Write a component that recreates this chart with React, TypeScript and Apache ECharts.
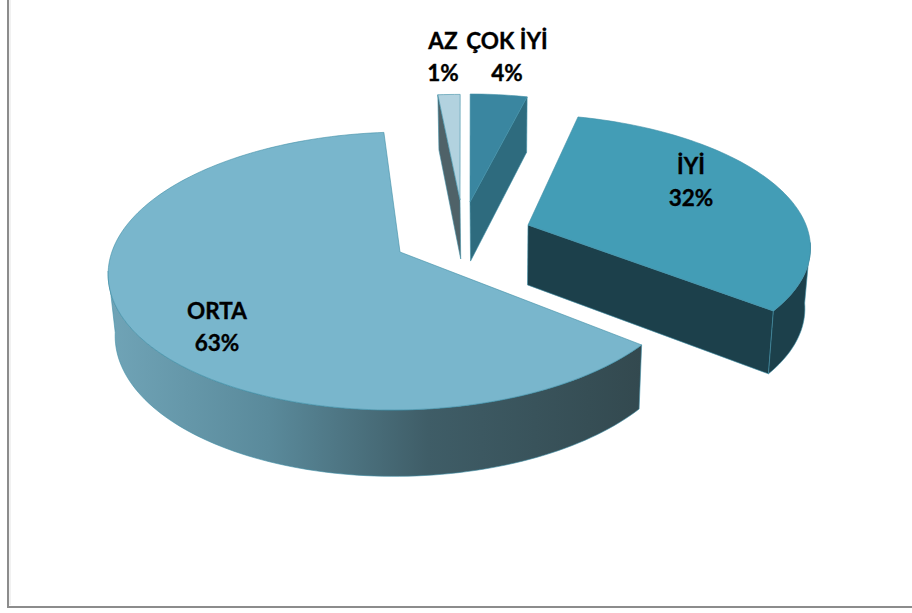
import React, { useEffect, useRef } from "react";
import * as echarts from "echarts";

// Data (shown rounded in the labels)
const categories = ["AZ", "ÇOK İYİ", "İYİ", "ORTA"];
const percentages = [1.4, 3.9, 31.8, 62.9];

// Layout of the 3D pie
const FIRST_ANGLE = 355;
const RIM_A = 289;
const RIM_B = 136.4;
const PERSPECTIVE = 0.1367;
const originsX = [460, 470, 528, 400];
const originsY = [200, 202, 225, 252];
const scalesX = [1, 0.92, 0.962, 0.997];
const scalesY = [0.88, 0.9, 0.925, 1];
const shears = [0, 0, 0.09, -0.05];
const labelX = [443, 507, 691, 217];
const labelY = [56, 56, 181, 326];

// Colours
const topColors = ["#b2d2df", "#3a86a0", "#439db6", "#79b6cc"];
const sideColors = ["#4f6268", "#2e6b7e", "#1c404b", "#1c404b"];
const edgeColor = "#3f8fa6";

const rad = (d: number) => (d * Math.PI) / 180;

function rimPoint(i: number, deg: number): number[] {
  const u = Math.sin(rad(deg));
  const v = Math.cos(rad(deg));
  const d = 1 + PERSPECTIVE * v;
  const dy = -(scalesY[i] * RIM_B * v) / d;
  return [originsX[i] + (scalesX[i] * RIM_A * u) / d + shears[i] * dy, originsY[i] + dy];
}

// Where a point of the top face lands on the bottom face
function drop(p: number[]): number[] {
  return [500 + (p[0] - 500) * 0.982, p[1] + 52 + 0.035 * p[1]];
}

function arc(i: number, from: number, to: number): number[][] {
  const n = Math.max(2, Math.ceil((to - from) / 1.5));
  const out: number[][] = [];
  for (let k = 0; k <= n; k++) out.push(rimPoint(i, from + ((to - from) * k) / n));
  return out;
}

function sliceAngles(index: number): [number, number] {
  const total = percentages.reduce((a, b) => a + b, 0);
  let start = FIRST_ANGLE;
  for (let k = 0; k < index; k++) start += (percentages[k] / total) * 360;
  const sweep = (percentages[index] / total) * 360;
  if (start >= 359.99) start -= 360;
  return [start, start + sweep];
}

function renderItem(params: any) {
  const i = params.dataIndex;
  const [a0, a1] = sliceAngles(i);
  const origin = [originsX[i], originsY[i]];
  const children: any[] = [];
  const wallFill =
    categories[i] === "ORTA"
      ? new echarts.graphic.LinearGradient(0, 0, 1, 0, [
          { offset: 0, color: "#70a4b7" },
          { offset: 0.3, color: "#5a8a9b" },
          { offset: 0.6, color: "#3f5d67" },
          { offset: 1, color: "#33494f" },
        ])
      : sideColors[i];
  const wall = (pts: number[][]) => {
    const bottom = pts.map(drop).reverse();
    children.push({
      type: "polygon",
      shape: { points: [...pts, ...bottom] },
      style: { fill: wallFill, stroke: edgeColor, lineWidth: 0.6 },
    });
  };
  // radial walls that face the viewer
  if (Math.sin(rad(a0)) < -0.001) wall([origin, rimPoint(i, a0)]);
  if (Math.sin(rad(a1)) > 0.001) wall([origin, rimPoint(i, a1)]);
  // outer wall: front half of each rim, between the silhouette points
  const extR = (Math.acos(-PERSPECTIVE) * 180) / Math.PI;
  const extL = 360 - extR;
  const from = Math.max(a0, extR);
  const to = Math.min(a1, extL);
  if (to > from) wall(arc(i, from, to));
  // top face
  children.push({
    type: "polygon",
    shape: { points: [origin, ...arc(i, a0, a1)] },
    style: { fill: topColors[i], stroke: edgeColor, lineWidth: 0.6 },
  });
  children.push({
    type: "text",
    style: {
      text: `${categories[i]}\n${Math.round(percentages[i])}%`,
      x: labelX[i],
      y: labelY[i],
      align: "center",
      verticalAlign: "middle",
      fontFamily: "Lato",
      fontWeight: "bold",
      fontSize: 22.5,
      lineHeight: 32,
      fill: "#000000",
      stroke: "#000000",
      lineWidth: 0.35,
    },
  });
  return { type: "group", children };
}

export default function App() {
  const ref = useRef<HTMLDivElement>(null);
  useEffect(() => {
    const chart = echarts.init(ref.current!, undefined, { renderer: "svg" });
    chart.setOption({
      animation: false,
      backgroundColor: "#ffffff",
      graphic: [
        {
          type: "polyline",
          shape: { points: [[10, 0], [10, 605]] },
          style: { stroke: "#e4e4e4", fill: "none", lineWidth: 1 },
        },
        {
          type: "polyline",
          shape: { points: [[8, 0], [8, 607], [912, 607]] },
          style: { stroke: "#8c8c8c", fill: "none", lineWidth: 2 },
        },
      ],
      series: [
        {
          type: "custom",
          coordinateSystem: "none",
          renderItem,
          data: percentages.map((v, i) => ({ name: categories[i], value: v })),
        },
      ],
    });
    return () => chart.dispose();
  }, []);
  return <div ref={ref} style={{ position: "absolute", left: 0, top: 0, width: 912, height: 613 }} />;
}
